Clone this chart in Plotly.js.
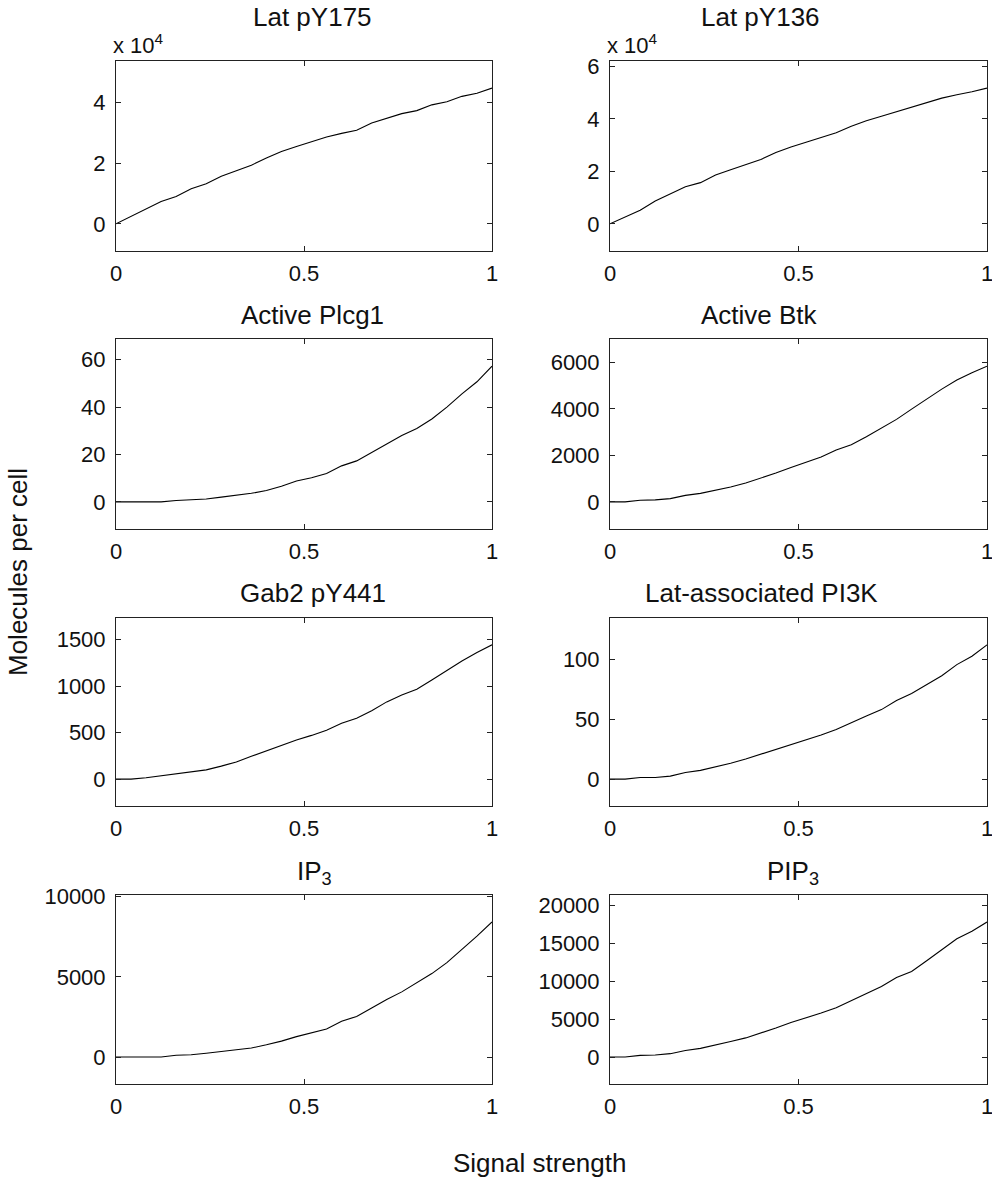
<!DOCTYPE html>
<html>
<head>
<meta charset="utf-8">
<script src="https://cdn.plot.ly/plotly-3.0.1.min.js"></script>
<style>html,body{margin:0;padding:0;background:#fff;}#chart{width:992px;height:1184px;}</style>
</head>
<body>
<div id="chart"></div>
<script>
// Signal strength (x values)
const signal = [0,0.04,0.08,0.12,0.16,0.20,0.24,0.28,0.32,0.36,0.40,0.44,0.48,0.52,0.56,0.60,0.64,0.68,0.72,0.76,0.80,0.84,0.88,0.92,0.96,1.0];

// Molecules per cell for each species
const latPY175 = [0,2500,5000,7400,9000,11600,13200,15700,17500,19300,21700,23800,25500,27000,28600,29800,30800,33200,34800,36300,37300,39200,40200,42000,43000,44700];
const latPY136 = [0,2700,5200,8700,11500,14100,15700,18600,20600,22500,24500,27200,29300,31100,33000,34700,37200,39300,41000,42700,44400,46100,47900,49200,50300,51700];
const plcg1    = [0,0,0,0,0.6,0.8,1.2,2.0,2.8,3.6,4.8,6.6,8.8,10.2,12.0,15.2,17.3,20.8,24.5,28.0,31.0,35.0,40.0,45.6,50.7,57.3];
const btk      = [0,0,70,85,140,280,365,500,640,810,1010,1240,1480,1700,1930,2230,2460,2800,3170,3550,3990,4420,4850,5240,5560,5840];
const gab2     = [0,0,15,36,55,78,100,140,185,245,304,362,420,470,525,600,655,735,830,905,966,1065,1170,1270,1360,1443];
const pi3k     = [0,0,1.4,1.4,2.5,5.5,7.3,10.2,13.3,16.8,20.8,24.3,28.6,32.7,36.8,41.4,46.7,52.6,58.0,65.5,71.5,78.6,86.3,95.5,102.5,112];
const ip3      = [0,0,0,0,110,140,230,350,460,560,760,990,1270,1500,1750,2230,2530,3060,3590,4060,4650,5200,5885,6680,7530,8416];
const pip3     = [0,0,218,255,440,860,1140,1550,2050,2520,3130,3830,4550,5150,5800,6500,7420,8310,9300,10500,11300,12700,14150,15600,16600,17820];

const panelTitles = ['Lat pY175','Lat pY136','Active Plcg1','Active Btk','Gab2 pY441','Lat-associated PI3K','IP<sub>3</sub>','PIP<sub>3</sub>'];
const series = [latPY175, latPY136, plcg1, btk, gab2, pi3k, ip3, pip3];
const yTickSteps = [20000, 20000, 20, 2000, 500, 50, 5000, 5000];
const yTickScale = [1e4, 1e4, 1, 1, 1, 1, 1, 1];   // displayed tick value = value / scale
const xTickVals = [0, 0.5, 1];
const xTickText = ['0', '0.5', '1'];

const W = 992, H = 1184;
const colPx = [[116, 492], [610, 987]];
const rowPx = [[61, 251], [339, 529], [618, 806], [895, 1084]];
const titleCenterY = [17, 315, 593, 872];
const titleCenterX = [312, 760, 312, 759, 313, 761, 314, 793];
const FONT = 'Liberation Sans, Arial, Helvetica, sans-serif';

const traces = [];
const layout = {
  width: W, height: H,
  margin: {l: 0, r: 0, t: 0, b: 0},
  paper_bgcolor: '#fff', plot_bgcolor: '#fff',
  showlegend: false,
  font: {family: FONT, size: 22, color: '#111'},
  annotations: []
};

series.forEach((ys, i) => {
  const col = i % 2, row = Math.floor(i / 2);
  const n = i + 1;
  const xa = n === 1 ? 'x' : 'x' + n;
  const ya = n === 1 ? 'y' : 'y' + n;
  traces.push({
    x: signal, y: ys, xaxis: xa, yaxis: ya,
    type: 'scatter', mode: 'lines',
    line: {color: '#000', width: 1.1},
    hoverinfo: 'skip'
  });
  const mn = Math.min(...ys), mx = Math.max(...ys), span = mx - mn;
  const yr = [mn - 0.2 * span, mx + 0.2 * span];
  const step = yTickSteps[i];
  const tv = [];
  for (let v = 0; v <= yr[1] + 1e-9; v += step) tv.push(v);
  const tt = tv.map(v => String(Math.round(v / yTickScale[i] * 1000) / 1000));
  const xd = [colPx[col][0] / W, colPx[col][1] / W];
  const yd = [1 - rowPx[row][1] / H, 1 - rowPx[row][0] / H];
  const common = {
    showgrid: false, zeroline: false, showline: true, mirror: 'ticks',
    linecolor: '#222', linewidth: 1, ticks: 'inside', ticklen: 5,
    tickcolor: '#222', tickwidth: 1, tickfont: {family: FONT, size: 22, color: '#111'},
    ticklabeloverflow: 'allow',
    fixedrange: true
  };
  layout['xaxis' + (n === 1 ? '' : n)] = Object.assign({}, common, {
    domain: xd, range: [0, 1], anchor: ya,
    tickmode: 'array', tickvals: xTickVals, ticktext: xTickText,
    ticklabelstandoff: 3
  });
  layout['yaxis' + (n === 1 ? '' : n)] = Object.assign({}, common, {
    domain: yd, range: yr, anchor: xa,
    tickmode: 'array', tickvals: tv, ticktext: tt,
    ticklabelstandoff: 5
  });
  // panel title
  layout.annotations.push({
    text: panelTitles[i], xref: 'paper', yref: 'paper',
    x: titleCenterX[i] / W, y: 1 - titleCenterY[row] / H,
    xanchor: 'center', yanchor: 'middle', showarrow: false,
    font: {family: FONT, size: 26, color: '#111'}
  });
  if (yTickScale[i] !== 1) {
    layout.annotations.push({
      text: 'x 10<sup>4</sup>', xref: 'paper', yref: 'paper',
      x: xd[0] - 5 / W, y: 1 - 44 / H,
      xanchor: 'left', yanchor: 'middle', showarrow: false,
      font: {family: FONT, size: 22, color: '#111'}
    });
  }
});

// shared axis titles
layout.annotations.push({
  text: 'Molecules per cell', xref: 'paper', yref: 'paper',
  x: 18 / W, y: 1 - 572 / H, textangle: -90,
  xanchor: 'center', yanchor: 'middle', showarrow: false,
  font: {family: FONT, size: 26, color: '#111'}
});
layout.annotations.push({
  text: 'Signal strength', xref: 'paper', yref: 'paper',
  x: 539 / W, y: 1 - 1163 / H,
  xanchor: 'center', yanchor: 'middle', showarrow: false,
  font: {family: FONT, size: 26, color: '#111'}
});

Plotly.newPlot('chart', traces, layout, {displayModeBar: false, staticPlot: true});
</script>
</body>
</html>
